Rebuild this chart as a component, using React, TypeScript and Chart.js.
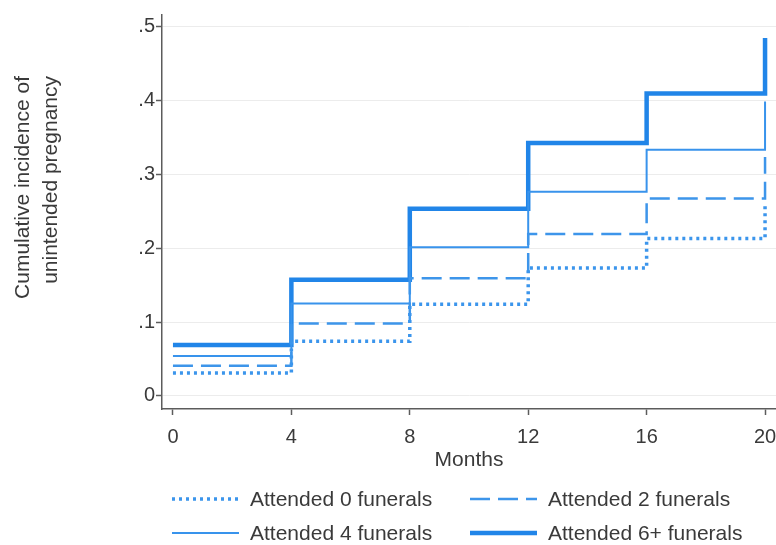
import React, { useEffect, useRef } from "react";
import { Chart, registerables } from "chart.js";

Chart.register(...registerables);

// ---- data ----
const months = [0, 4, 8, 12, 16, 20];
const seriesLabels = [
  "Attended 0 funerals",
  "Attended 2 funerals",
  "Attended 4 funerals",
  "Attended 6+ funerals",
];
const attended0 = [0.031, 0.074, 0.124, 0.173, 0.213, 0.257];
const attended2 = [0.041, 0.098, 0.159, 0.219, 0.267, 0.323];
const attended4 = [0.054, 0.125, 0.201, 0.276, 0.333, 0.398];
const attended6 = [0.069, 0.157, 0.253, 0.342, 0.409, 0.484];
const xTicks = [0, 4, 8, 12, 16, 20];
const yTicks = [0, 0.1, 0.2, 0.3, 0.4, 0.5];
const yTickLabels = ["0", ".1", ".2", ".3", ".4", ".5"];
const xTitle = "Months";
const yTitle = ["Cumulative incidence of", "unintended pregnancy"];

const FONT = '"Liberation Sans", Arial, Helvetica, sans-serif';
const TEXT = "#3a3a3a";
const AXIS = "#5c5c5c";

const seriesValues = [attended0, attended2, attended4, attended6];
const seriesStyles = [
  { color: "#3b95ec", width: 3.5, dash: [3, 4] },
  { color: "#3d95ea", width: 2.5, dash: [20, 8] },
  { color: "#3893ec", width: 2, dash: [] as number[] },
  { color: "#2185e8", width: 4.5, dash: [] as number[] },
];

const overlayPlugin = {
  id: "overlay",
  afterDraw(chart: any) {
    const ctx = chart.ctx as CanvasRenderingContext2D;
    const area = chart.chartArea;
    ctx.save();
    ctx.fillStyle = TEXT;
    ctx.font = `21px ${FONT}`;
    ctx.textBaseline = "middle";
    // y-axis title (two lines, rotated)
    yTitle.forEach((t, i) => {
      ctx.save();
      ctx.translate(23 + i * 28, 76);
      ctx.rotate(-Math.PI / 2);
      ctx.textAlign = "right";
      ctx.fillText(t, 0, 0);
      ctx.restore();
    });
    // legend: 2 columns x 2 rows
    chart.data.datasets.forEach((ds: any, i: number) => {
      const col = i % 2;
      const row = Math.floor(i / 2);
      const x0 = area.left + 10 + col * 298;
      const y = area.bottom + 90 + row * 34;
      ctx.strokeStyle = ds.borderColor;
      ctx.lineWidth = ds.borderWidth;
      ctx.setLineDash(ds.borderDash || []);
      ctx.lineCap = "butt";
      ctx.beginPath();
      ctx.moveTo(x0, y);
      ctx.lineTo(x0 + 67, y);
      ctx.stroke();
      ctx.setLineDash([]);
      ctx.textAlign = "left";
      ctx.fillStyle = TEXT;
      ctx.fillText(ds.label, x0 + 78, y + 1);
    });
    ctx.restore();
  },
};

export default function App() {
  const ref = useRef<HTMLCanvasElement | null>(null);

  useEffect(() => {
    document.body.style.margin = "0";
    document.body.style.background = "#ffffff";
    if (!ref.current) return;
    Chart.defaults.font.family = FONT;
    const datasets = seriesValues.map((vals, i) => ({
      label: seriesLabels[i],
      data: months.map((m, j) => ({ x: m, y: vals[j] })),
      borderColor: seriesStyles[i].color,
      borderWidth: seriesStyles[i].width,
      borderDash: seriesStyles[i].dash,
      stepped: true,
      pointRadius: 0,
      fill: false,
    }));
    const chart = new Chart(ref.current, {
      type: "line",
      data: { datasets },
      options: {
        animation: false,
        responsive: false,
        events: [],
        layout: { autoPadding: false, padding: { left: 0, right: 0, top: 15, bottom: 0 } },
        plugins: { legend: { display: false }, tooltip: { enabled: false } },
        scales: {
          x: {
            type: "linear",
            min: -0.37,
            max: 20.37,
            afterBuildTicks: (s: any) => {
              s.ticks = xTicks.map((v) => ({ value: v }));
            },
            afterFit: (s: any) => {
              s.height = 136;
              s.paddingLeft = 0;
              s.paddingRight = 0;
            },
            grid: {
              drawOnChartArea: false,
              drawTicks: true,
              tickLength: 6,
              tickColor: AXIS,
              tickWidth: 1.5,
            },
            border: { color: AXIS, width: 1.5 },
            ticks: {
              padding: 10,
              color: TEXT,
              font: { size: 20 },
              maxRotation: 0,
              autoSkip: false,
              callback: (v: any) => String(v),
            },
            title: {
              display: true,
              text: xTitle,
              color: TEXT,
              font: { size: 21 },
              padding: { top: 0, bottom: 72 },
            },
          },
          y: {
            type: "linear",
            min: -0.0176,
            max: 0.515,
            afterBuildTicks: (s: any) => {
              s.ticks = yTicks.map((v) => ({ value: v }));
            },
            afterFit: (s: any) => {
              s.width = 162;
              s.paddingTop = 0;
              s.paddingBottom = 0;
            },
            grid: {
              color: "#ececec",
              lineWidth: 1,
              drawTicks: true,
              tickLength: 6,
              tickColor: AXIS,
              tickWidth: 1.5,
            },
            border: { color: AXIS, width: 1.5 },
            ticks: {
              padding: 1,
              color: TEXT,
              font: { size: 20 },
              autoSkip: false,
              callback: (v: any) => {
                const idx = yTicks.findIndex((t) => Math.abs(t - Number(v)) < 1e-9);
                return idx >= 0 ? yTickLabels[idx] : "";
              },
            },
          },
        },
      },
      plugins: [overlayPlugin],
    });
    return () => chart.destroy();
  }, []);

  return (
    <canvas
      ref={ref}
      width={776}
      height={545}
      style={{ display: "block", width: 776, height: 545 }}
    />
  );
}
